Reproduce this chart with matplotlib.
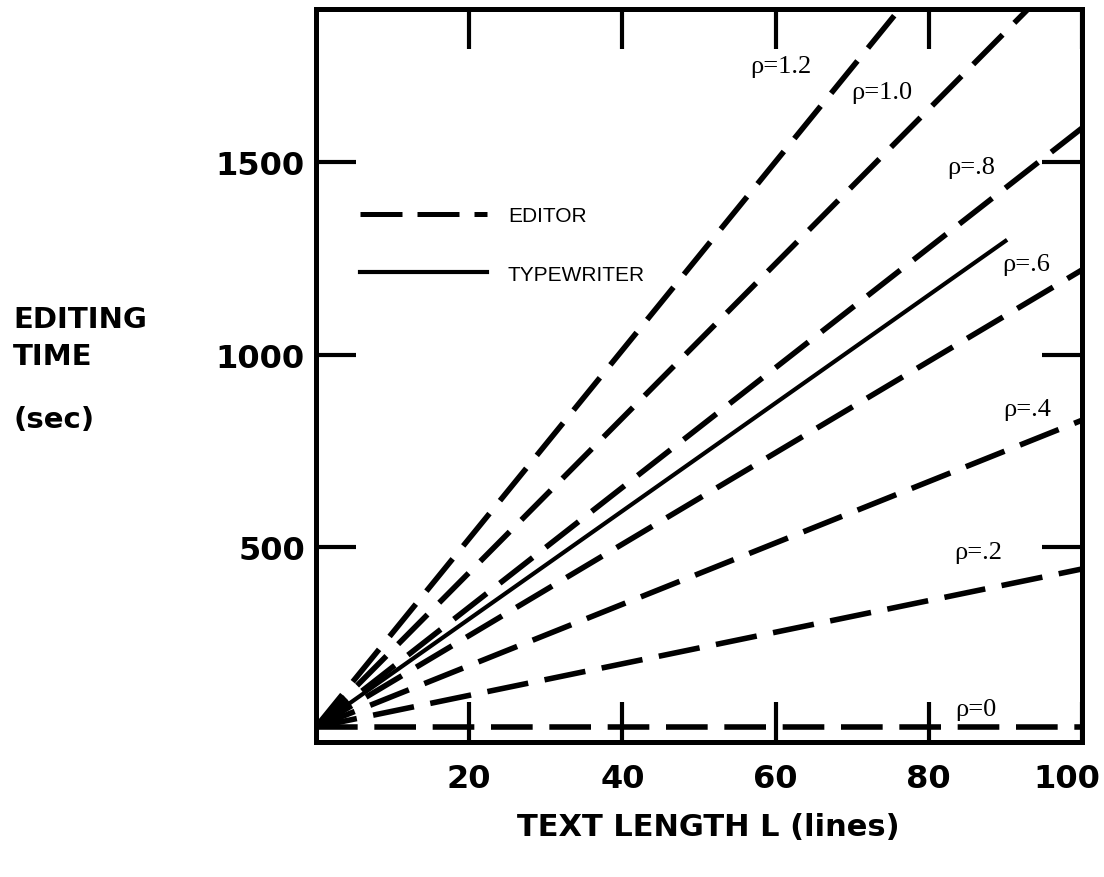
import matplotlib.pyplot as plt
from matplotlib.lines import Line2D
from matplotlib.transforms import ScaledTranslation

# editing time (sec) vs text length L (lines)
rho_labels = ["\u03c1=0", "\u03c1=.2", "\u03c1=.4", "\u03c1=.6", "\u03c1=.8", "\u03c1=1.0", "\u03c1=1.2"]
editor_L = [0, 100]
editor_start = 34
editor_end = [34, 444, 830, 1220, 1588, 2038, 2479]

typewriter_L = [0, 90]
typewriter_t = [34, 1295]

x_ticks = [20, 40, 60, 80, 100]
y_ticks = [500, 1000, 1500]

# where the rho labels sit (data coords)
label_pos = [(86.2, 80), (86.4, 488), (92.9, 860), (92.7, 1236),
             (85.5, 1487), (73.9, 1682), (60.7, 1749)]

bold = dict(family="DejaVu Sans", weight="bold")
serif = ["Liberation Serif", "DejaVu Serif"]
dash = (0, (7.5, 3))

fig = plt.figure(figsize=(11.04, 8.78), dpi=100)
ax = fig.add_axes([316 / 1104, 1 - 743 / 878, 766 / 1104, 733 / 878])

for end in editor_end:
    ax.plot(editor_L, [editor_start, end], color="black", lw=4, ls=dash,
            solid_capstyle="butt", dash_capstyle="butt")
ax.plot(typewriter_L, typewriter_t, color="black", lw=3)

for txt, (x, y) in zip(rho_labels, label_pos):
    ax.text(x, y, txt, family=serif, fontsize=19, ha="center", va="center")

ax.set_xlim(0, 100)
ax.set_ylim(-5, 1897)

ax.set_xticks(x_ticks)
ax.set_xticklabels([str(v) for v in x_ticks], fontdict=bold, fontsize=23)
ax.set_yticks(y_ticks)
ax.set_yticklabels([str(v) for v in y_ticks], fontdict=bold, fontsize=23)
ax.tick_params(direction="in", length=29, width=3, top=True, right=True,
               labeltop=False, labelright=False)
ax.tick_params(axis="x", pad=15)
ax.tick_params(axis="y", pad=8)
for sp in ax.spines.values():
    sp.set_linewidth(3.6)

# pull the "100" label back inside the picture
last = ax.get_xticklabels()[-1]
last.set_transform(last.get_transform() + ScaledTranslation(-0.15, 0, fig.dpi_scale_trans))

handles = [Line2D([], [], color="black", lw=3.6, ls=(0, (8.4, 3))),
           Line2D([], [], color="black", lw=3)]
ax.legend(handles, ["EDITOR", "TYPEWRITER"], loc="upper left",
          bbox_to_anchor=(360 / 1104, 1 - 207 / 878), bbox_transform=fig.transFigure,
          frameon=False, borderpad=0, borderaxespad=0, handlelength=6.1,
          handletextpad=1.0, labelspacing=1.9, prop=dict(family="Liberation Sans", size=15))

fig.text(13 / 1104, 1 - 320 / 878, "EDITING", fontdict=bold, fontsize=21, va="center")
fig.text(13 / 1104, 1 - 357 / 878, "TIME", fontdict=bold, fontsize=21, va="center")
fig.text(13 / 1104, 1 - 420 / 878, "(sec)", fontdict=bold, fontsize=21, va="center")
fig.text(708 / 1104, 1 - 828 / 878, "TEXT LENGTH L (lines)", fontdict=bold, fontsize=22,
         ha="center", va="center")

fig.savefig("out.png", dpi=100)
